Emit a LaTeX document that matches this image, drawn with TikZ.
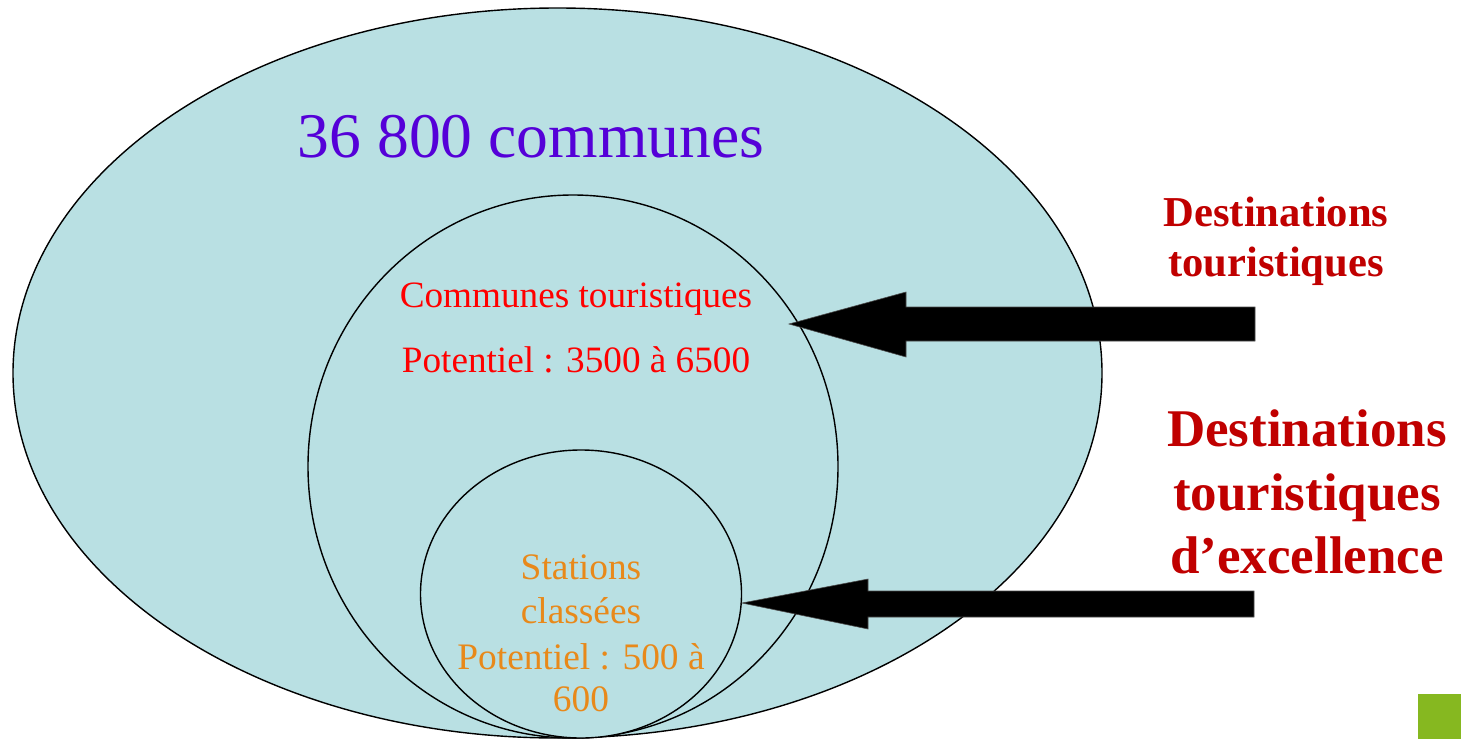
\documentclass[tikz,border=0pt]{standalone}
\usepackage{fontspec}
\setmainfont{Liberation Serif}
\usetikzlibrary{shapes.geometric}
\definecolor{teal}{HTML}{B9E0E3}
\definecolor{purp}{HTML}{5500D8}
\definecolor{redt}{HTML}{FF0000}
\definecolor{darkr}{HTML}{C00000}
\definecolor{orng}{HTML}{E8891A}
\definecolor{grn}{HTML}{86B820}
\begin{document}
\begin{tikzpicture}[x=0.5pt,y=-0.5pt,
  zone/.style={ellipse,draw=black,line width=0.7pt,fill=teal,inner sep=0pt},
  bigarrow/.style={fill=black,draw=black!70,line width=0.3pt},
  lbl/.style={anchor=base,inner sep=0pt}]
\useasboundingbox (0,0) rectangle (1461,739);
\fill[white] (0,0) rectangle (1461,739);
% zones
\node[zone,minimum width=544.5pt,minimum height=365pt] (outer) at (557.5,373) {};
\node[zone,minimum width=265pt,minimum height=271.5pt] (middle) at (573,466.5) {};
\node[zone,minimum width=160.5pt,minimum height=144pt] (inner) at (581,594) {};
% texts
\node[lbl,text=purp,font=\fontsize{31.8}{38}\selectfont] (t36) at (531,157) {36 800 communes};
\node[lbl,text=redt,font=\fontsize{18.6}{22}\selectfont] (ct1) at (576,307) {Communes touristiques};
\node[lbl,text=redt,font=\fontsize{18.6}{22}\selectfont] (ct2) at (576,372) {Potentiel : 3500 à 6500};
\node[lbl,text=orng,font=\fontsize{18.7}{22}\selectfont] (sc1) at (581,579) {Stations};
\node[lbl,text=orng,font=\fontsize{18.7}{22}\selectfont] (sc2) at (581,623) {classées};
\node[lbl,text=orng,font=\fontsize{18.7}{22}\selectfont] (sc3) at (581,669) {Potentiel : 500 à};
\node[lbl,text=orng,font=\fontsize{18.7}{22}\selectfont] (sc4) at (581,711) {600};
\node[lbl,text=darkr,font=\bfseries\fontsize{21.3}{25}\selectfont] (dt1) at (1276,226) {Destinations};
\node[lbl,text=darkr,font=\bfseries\fontsize{21.3}{25}\selectfont] (dt2) at (1276,276) {touristiques};
\node[lbl,text=darkr,font=\bfseries\fontsize{26.5}{32}\selectfont] (de1) at (1307,446) {Destinations};
\node[lbl,text=darkr,font=\bfseries\fontsize{26.5}{32}\selectfont] (de2) at (1307,510) {touristiques};
\node[lbl,text=darkr,font=\bfseries\fontsize{26.5}{32}\selectfont] (de3) at (1307,573) {d’excellence};
% arrow 1
\coordinate (a1tip) at (789,324);
\coordinate (a1end) at (1255,324);
\fill[bigarrow] (a1tip) -- (906,292) -- (906,307) -- ([yshift=8.5pt]a1end) -- ([yshift=-8.5pt]a1end) -- (906,341) -- (906,357) -- cycle;
% arrow 2
\coordinate (a2tip) at (742,603);
\coordinate (a2end) at (1254,604);
\fill[bigarrow] (a2tip) -- (868,579) -- (868,591) -- ([yshift=6.5pt]a2end) -- ([yshift=-6.5pt]a2end) -- (868,617) -- (868,629) -- cycle;
% green square
\fill[grn] (1418,694) rectangle (1461,739);
\end{tikzpicture}
\end{document}
